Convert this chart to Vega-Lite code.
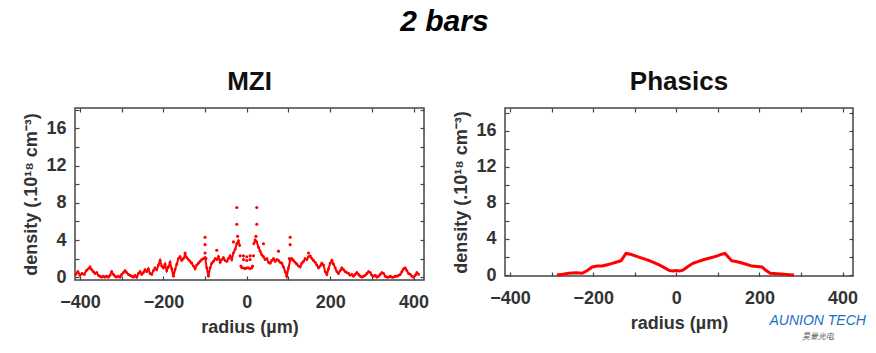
{
  "$schema": "https://vega.github.io/schema/vega-lite/v6.json",
  "background": "white",
  "padding": {"left": 22, "top": 6, "right": 10, "bottom": 5},
  "title": {"text": "2 bars", "fontSize": 30, "fontStyle": "italic", "fontWeight": "bold", "color": "#000", "font": "Liberation Sans", "anchor": "middle", "offset": 32},
  "config": {
    "font": "Liberation Sans",
    "view": {"stroke": "#444", "strokeWidth": 1.5},
    "axis": {"labelFont": "Liberation Sans", "labelFontSize": 18, "labelFontWeight": "bold", "labelColor": "#333", "titleFont": "Liberation Sans", "titleFontSize": 18, "titleFontWeight": "bold", "titleColor": "#333", "grid": false, "domain": false, "tickColor": "#444", "tickSize": -4, "tickWidth": 1.2},
    "title": {"font": "Liberation Sans"}
  },
  "datasets": {
    "mzi": [
      {"x": -410, "y": 0.3, "s": "L"}, {"x": -405, "y": 0.6, "s": "L"}, {"x": -400, "y": 0.2, "s": "L"}, {"x": -395, "y": 0.4, "s": "L"}, {"x": -390, "y": 0.3, "s": "L"}, {"x": -385, "y": 0.7, "s": "L"}, {"x": -380, "y": 0.9, "s": "L"}, {"x": -376, "y": 1.1, "s": "L"}, {"x": -372, "y": 0.8, "s": "L"}, {"x": -368, "y": 0.6, "s": "L"}, {"x": -364, "y": 0.4, "s": "L"}, {"x": -360, "y": 0.5, "s": "L"}, {"x": -356, "y": 0.2, "s": "L"}, {"x": -352, "y": 0.1, "s": "L"}, {"x": -348, "y": 0.0, "s": "L"}, {"x": -344, "y": 0.1, "s": "L"}, {"x": -340, "y": 0.0, "s": "L"}, {"x": -336, "y": 0.1, "s": "L"}, {"x": -332, "y": 0.0, "s": "L"}, {"x": -328, "y": 0.2, "s": "L"}, {"x": -324, "y": 0.6, "s": "L"}, {"x": -320, "y": 0.3, "s": "L"}, {"x": -316, "y": 0.1, "s": "L"}, {"x": -312, "y": 0.0, "s": "L"}, {"x": -308, "y": 0.1, "s": "L"}, {"x": -304, "y": 0.0, "s": "L"}, {"x": -300, "y": 0.3, "s": "L"}, {"x": -296, "y": 0.5, "s": "L"}, {"x": -292, "y": 0.7, "s": "L"}, {"x": -288, "y": 0.5, "s": "L"}, {"x": -284, "y": 0.3, "s": "L"}, {"x": -280, "y": 0.2, "s": "L"}, {"x": -276, "y": 0.1, "s": "L"}, {"x": -272, "y": 0.0, "s": "L"}, {"x": -268, "y": 0.2, "s": "L"}, {"x": -264, "y": 0.0, "s": "L"}, {"x": -260, "y": 0.4, "s": "L"}, {"x": -256, "y": 0.6, "s": "L"}, {"x": -252, "y": 0.3, "s": "L"}, {"x": -248, "y": 0.5, "s": "L"}, {"x": -244, "y": 0.8, "s": "L"}, {"x": -240, "y": 0.6, "s": "L"}, {"x": -236, "y": 0.9, "s": "L"}, {"x": -232, "y": 0.4, "s": "L"}, {"x": -228, "y": 0.3, "s": "L"}, {"x": -224, "y": 0.7, "s": "L"}, {"x": -220, "y": 1.0, "s": "L"}, {"x": -216, "y": 0.8, "s": "L"}, {"x": -212, "y": 1.3, "s": "L"}, {"x": -208, "y": 1.8, "s": "L"}, {"x": -204, "y": 1.2, "s": "L"}, {"x": -200, "y": 1.0, "s": "L"}, {"x": -196, "y": 1.4, "s": "L"}, {"x": -192, "y": 0.7, "s": "L"}, {"x": -188, "y": 1.1, "s": "L"}, {"x": -184, "y": 1.6, "s": "L"}, {"x": -180, "y": 0.9, "s": "L"}, {"x": -176, "y": 0.1, "s": "L"}, {"x": -172, "y": 0.8, "s": "L"}, {"x": -168, "y": 1.4, "s": "L"}, {"x": -164, "y": 2.0, "s": "L"}, {"x": -160, "y": 2.2, "s": "L"}, {"x": -156, "y": 1.8, "s": "L"}, {"x": -152, "y": 2.0, "s": "L"}, {"x": -148, "y": 2.4, "s": "L"}, {"x": -144, "y": 2.1, "s": "L"}, {"x": -140, "y": 1.9, "s": "L"}, {"x": -136, "y": 1.7, "s": "L"}, {"x": -132, "y": 1.5, "s": "L"}, {"x": -128, "y": 1.2, "s": "L"}, {"x": -124, "y": 0.9, "s": "L"}, {"x": -120, "y": 1.3, "s": "L"}, {"x": -116, "y": 1.5, "s": "L"}, {"x": -112, "y": 1.7, "s": "L"}, {"x": -108, "y": 1.9, "s": "L"}, {"x": -104, "y": 2.0, "s": "L"}, {"x": -100, "y": 2.1, "s": "L"}, {"x": -96, "y": 1.0, "s": "L"}, {"x": -92, "y": 0.1, "s": "L"}, {"x": -88, "y": 1.0, "s": "L"}, {"x": -84, "y": 1.5, "s": "L"}, {"x": -80, "y": 1.7, "s": "L"}, {"x": -76, "y": 2.0, "s": "L"}, {"x": -72, "y": 1.9, "s": "L"}, {"x": -68, "y": 2.2, "s": "L"}, {"x": -64, "y": 1.6, "s": "L"}, {"x": -60, "y": 1.9, "s": "L"}, {"x": -56, "y": 2.1, "s": "L"}, {"x": -52, "y": 1.8, "s": "L"}, {"x": -48, "y": 1.7, "s": "L"}, {"x": -44, "y": 2.0, "s": "L"}, {"x": -40, "y": 2.3, "s": "L"}, {"x": -36, "y": 1.9, "s": "L"}, {"x": -32, "y": 2.6, "s": "L"}, {"x": -28, "y": 3.0, "s": "L"}, {"x": -24, "y": 3.6, "s": "L"}, {"x": -20, "y": 3.9, "s": "L"}, {"x": -17, "y": 3.4, "s": "L"},
      {"x": -12, "y": 1.0, "s": "C"}, {"x": -8, "y": 1.0, "s": "C"}, {"x": -4, "y": 0.9, "s": "C"}, {"x": 0, "y": 1.0, "s": "C"}, {"x": 4, "y": 1.0, "s": "C"}, {"x": 8, "y": 0.9, "s": "C"}, {"x": 12, "y": 1.0, "s": "C"},
      {"x": 17, "y": 3.6, "s": "R"}, {"x": 20, "y": 4.0, "s": "R"}, {"x": 24, "y": 3.8, "s": "R"}, {"x": 28, "y": 3.2, "s": "R"}, {"x": 32, "y": 2.8, "s": "R"}, {"x": 36, "y": 2.4, "s": "R"}, {"x": 40, "y": 2.2, "s": "R"}, {"x": 44, "y": 1.9, "s": "R"}, {"x": 48, "y": 2.0, "s": "R"}, {"x": 52, "y": 1.6, "s": "R"}, {"x": 56, "y": 1.5, "s": "R"}, {"x": 60, "y": 1.8, "s": "R"}, {"x": 64, "y": 2.0, "s": "R"}, {"x": 68, "y": 1.7, "s": "R"}, {"x": 72, "y": 1.9, "s": "R"}, {"x": 76, "y": 1.8, "s": "R"}, {"x": 80, "y": 1.6, "s": "R"}, {"x": 84, "y": 1.5, "s": "R"}, {"x": 88, "y": 1.1, "s": "R"}, {"x": 92, "y": 0.6, "s": "R"}, {"x": 96, "y": 0.1, "s": "R"}, {"x": 100, "y": 1.0, "s": "R"}, {"x": 104, "y": 1.8, "s": "R"}, {"x": 108, "y": 2.0, "s": "R"}, {"x": 112, "y": 1.8, "s": "R"}, {"x": 116, "y": 1.6, "s": "R"}, {"x": 120, "y": 1.4, "s": "R"}, {"x": 124, "y": 1.2, "s": "R"}, {"x": 128, "y": 1.1, "s": "R"}, {"x": 132, "y": 1.5, "s": "R"}, {"x": 136, "y": 1.7, "s": "R"}, {"x": 140, "y": 2.0, "s": "R"}, {"x": 144, "y": 1.9, "s": "R"}, {"x": 148, "y": 2.2, "s": "R"}, {"x": 152, "y": 2.3, "s": "R"}, {"x": 156, "y": 2.0, "s": "R"}, {"x": 160, "y": 1.8, "s": "R"}, {"x": 164, "y": 1.6, "s": "R"}, {"x": 168, "y": 1.3, "s": "R"}, {"x": 172, "y": 1.0, "s": "R"}, {"x": 176, "y": 1.2, "s": "R"}, {"x": 180, "y": 1.5, "s": "R"}, {"x": 184, "y": 1.3, "s": "R"}, {"x": 188, "y": 0.6, "s": "R"}, {"x": 192, "y": 0.3, "s": "R"}, {"x": 196, "y": 0.9, "s": "R"}, {"x": 200, "y": 1.5, "s": "R"}, {"x": 204, "y": 1.8, "s": "R"}, {"x": 208, "y": 1.4, "s": "R"}, {"x": 212, "y": 1.0, "s": "R"}, {"x": 216, "y": 0.6, "s": "R"}, {"x": 220, "y": 0.4, "s": "R"}, {"x": 224, "y": 0.7, "s": "R"}, {"x": 228, "y": 1.0, "s": "R"}, {"x": 232, "y": 0.8, "s": "R"}, {"x": 236, "y": 0.6, "s": "R"}, {"x": 240, "y": 0.5, "s": "R"}, {"x": 244, "y": 0.4, "s": "R"}, {"x": 248, "y": 0.2, "s": "R"}, {"x": 252, "y": 0.3, "s": "R"}, {"x": 256, "y": 0.1, "s": "R"}, {"x": 260, "y": 0.3, "s": "R"}, {"x": 264, "y": 0.5, "s": "R"}, {"x": 268, "y": 0.3, "s": "R"}, {"x": 272, "y": 0.1, "s": "R"}, {"x": 276, "y": 0.0, "s": "R"}, {"x": 280, "y": 0.1, "s": "R"}, {"x": 284, "y": 0.2, "s": "R"}, {"x": 288, "y": 0.4, "s": "R"}, {"x": 292, "y": 0.6, "s": "R"}, {"x": 296, "y": 0.5, "s": "R"}, {"x": 300, "y": 0.2, "s": "R"}, {"x": 304, "y": 0.1, "s": "R"}, {"x": 308, "y": 0.2, "s": "R"}, {"x": 312, "y": 0.0, "s": "R"}, {"x": 316, "y": 0.1, "s": "R"}, {"x": 320, "y": 0.3, "s": "R"}, {"x": 324, "y": 0.5, "s": "R"}, {"x": 328, "y": 0.4, "s": "R"}, {"x": 332, "y": 0.1, "s": "R"}, {"x": 336, "y": 0.0, "s": "R"}, {"x": 340, "y": 0.0, "s": "R"}, {"x": 344, "y": 0.1, "s": "R"}, {"x": 348, "y": 0.0, "s": "R"}, {"x": 352, "y": 0.0, "s": "R"}, {"x": 356, "y": 0.1, "s": "R"}, {"x": 360, "y": 0.1, "s": "R"}, {"x": 364, "y": 0.2, "s": "R"}, {"x": 368, "y": 0.3, "s": "R"}, {"x": 372, "y": 0.6, "s": "R"}, {"x": 376, "y": 0.9, "s": "R"}, {"x": 380, "y": 1.0, "s": "R"}, {"x": 384, "y": 0.7, "s": "R"}, {"x": 388, "y": 0.4, "s": "R"}, {"x": 392, "y": 0.3, "s": "R"}, {"x": 396, "y": 0.1, "s": "R"}, {"x": 400, "y": 0.0, "s": "R"}, {"x": 404, "y": 0.2, "s": "R"}, {"x": 408, "y": 0.5, "s": "R"}, {"x": 412, "y": 0.3, "s": "R"}
    ],
    "spikes": [
      {"x": -100, "y": 4.3}, {"x": -100, "y": 3.5}, {"x": -100, "y": 2.6}, {"x": -98, "y": 2.0},
      {"x": -148, "y": 2.6}, {"x": -72, "y": 2.9}, {"x": -32, "y": 3.8},
      {"x": -24, "y": 7.5}, {"x": -24, "y": 5.7}, {"x": -22, "y": 4.4},
      {"x": -16, "y": 2.3}, {"x": -14, "y": 1.2},
      {"x": -8, "y": 2.3}, {"x": -8, "y": 1.9}, {"x": 0, "y": 2.2}, {"x": 0, "y": 1.8}, {"x": 8, "y": 2.3}, {"x": 8, "y": 1.9},
      {"x": 14, "y": 1.2}, {"x": 16, "y": 2.3},
      {"x": 24, "y": 7.5}, {"x": 24, "y": 5.7}, {"x": 22, "y": 4.4},
      {"x": 40, "y": 3.6}, {"x": 76, "y": 2.8}, {"x": 148, "y": 2.6},
      {"x": 104, "y": 4.3}, {"x": 104, "y": 3.5}, {"x": 102, "y": 2.0}
    ],
    "phasics": [
      {"x": -287, "y": 0.0}, {"x": -272, "y": 0.1}, {"x": -259, "y": 0.2}, {"x": -240, "y": 0.25}, {"x": -226, "y": 0.2}, {"x": -214, "y": 0.5}, {"x": -202, "y": 0.9}, {"x": -190, "y": 1.0}, {"x": -178, "y": 1.0}, {"x": -166, "y": 1.15}, {"x": -154, "y": 1.3}, {"x": -143, "y": 1.45}, {"x": -133, "y": 1.6}, {"x": -127, "y": 2.0}, {"x": -121, "y": 2.4}, {"x": -110, "y": 2.3}, {"x": -97, "y": 2.1}, {"x": -81, "y": 1.85}, {"x": -65, "y": 1.6}, {"x": -52, "y": 1.35}, {"x": -40, "y": 1.1}, {"x": -28, "y": 0.8}, {"x": -16, "y": 0.5}, {"x": -8, "y": 0.45}, {"x": 0, "y": 0.5}, {"x": 8, "y": 0.45}, {"x": 16, "y": 0.55}, {"x": 28, "y": 0.95}, {"x": 40, "y": 1.3}, {"x": 52, "y": 1.5}, {"x": 65, "y": 1.7}, {"x": 81, "y": 1.9}, {"x": 97, "y": 2.1}, {"x": 108, "y": 2.3}, {"x": 117, "y": 2.4}, {"x": 125, "y": 2.0}, {"x": 133, "y": 1.6}, {"x": 143, "y": 1.5}, {"x": 154, "y": 1.4}, {"x": 168, "y": 1.2}, {"x": 182, "y": 1.0}, {"x": 194, "y": 0.95}, {"x": 206, "y": 0.9}, {"x": 216, "y": 0.5}, {"x": 226, "y": 0.2}, {"x": 242, "y": 0.15}, {"x": 259, "y": 0.1}, {"x": 272, "y": 0.05}, {"x": 283, "y": 0.0}
    ],
    "logo": [
      {"x": 340, "y": -5.1, "t": "AUNION TECH", "k": "en"},
      {"x": 340, "y": -6.9, "t": "昊量光电", "k": "cn"}
    ]
  },
  "hconcat": [
    {
      "width": 349, "height": 172,
      "title": {"text": "MZI", "fontSize": 26, "fontWeight": "bold", "color": "#111", "offset": 12},
      "layer": [
        {
          "data": {"name": "mzi"},
          "mark": {"type": "line", "color": "#ff0000", "strokeWidth": 2, "point": {"filled": true, "size": 8, "color": "#ff0000"}},
          "encoding": {
            "x": {"field": "x", "type": "quantitative", "scale": {"domain": [-412, 425], "nice": false, "zero": false},
                  "axis": {"title": "radius (µm)", "values": [-400, -300, -200, -100, 0, 100, 200, 300, 400], "labelExpr": "datum.value % 200 == 0 ? datum.label : ''", "labelPadding": 17, "titlePadding": 7}},
            "y": {"field": "y", "type": "quantitative", "scale": {"domain": [-0.3, 18.2], "nice": false, "zero": false},
                  "axis": {"title": "density (.10¹⁸ cm⁻³)", "values": [0, 2, 4, 6, 8, 10, 12, 14, 16, 18], "labelExpr": "datum.value % 4 == 0 && datum.value < 18 ? datum.label : ''", "labelPadding": 13, "titlePadding": 5}},
            "detail": {"field": "s"}
          }
        },
        {
          "data": {"name": "spikes"},
          "mark": {"type": "point", "filled": true, "size": 10, "color": "#ff0000", "opacity": 1},
          "encoding": {
            "x": {"field": "x", "type": "quantitative", "axis": null},
            "y": {"field": "y", "type": "quantitative", "axis": null}
          }
        },
        {
          "data": {"name": "spikes"},
          "mark": {"type": "point", "opacity": 0},
          "encoding": {
            "x": {"field": "x", "type": "quantitative", "axis": {"orient": "top", "labels": false, "title": null, "values": [-400, -300, -200, -100, 0, 100, 200, 300, 400]}},
            "y": {"field": "y", "type": "quantitative", "axis": {"orient": "right", "labels": false, "title": null, "values": [0, 2, 4, 6, 8, 10, 12, 14, 16, 18]}}
          }
        }
      ],
      "resolve": {"axis": {"x": "independent", "y": "independent"}}
    },
    {
      "width": 348, "height": 168,
      "title": {"text": "Phasics", "fontSize": 26, "fontWeight": "bold", "color": "#111", "offset": 12},
      "layer": [
        {
          "data": {"name": "phasics"},
          "mark": {"type": "line", "color": "#ff0000", "strokeWidth": 3},
          "encoding": {
            "x": {"field": "x", "type": "quantitative", "scale": {"domain": [-412, 425], "nice": false, "zero": false},
                  "axis": {"title": "radius (µm)", "values": [-400, -300, -200, -100, 0, 100, 200, 300, 400], "labelExpr": "datum.value % 200 == 0 ? datum.label : ''", "labelPadding": 17, "titlePadding": 7}},
            "y": {"field": "y", "type": "quantitative", "scale": {"domain": [-0.1, 18.5], "nice": false, "zero": false},
                  "axis": {"title": "density (.10¹⁸ cm⁻³)", "values": [0, 2, 4, 6, 8, 10, 12, 14, 16, 18], "labelExpr": "datum.value % 4 == 0 && datum.value < 18 ? datum.label : ''", "labelPadding": 13, "titlePadding": 5}}
          }
        },
        {
          "data": {"name": "phasics"},
          "mark": {"type": "point", "opacity": 0},
          "encoding": {
            "x": {"field": "x", "type": "quantitative", "axis": {"orient": "top", "labels": false, "title": null, "values": [-400, -300, -200, -100, 0, 100, 200, 300, 400]}},
            "y": {"field": "y", "type": "quantitative", "axis": {"orient": "right", "labels": false, "title": null, "values": [0, 2, 4, 6, 8, 10, 12, 14, 16, 18]}}
          }
        },
        {
          "data": {"name": "logo"},
          "mark": {"type": "text", "fontStyle": "italic", "clip": false},
          "encoding": {
            "x": {"field": "x", "type": "quantitative", "axis": null},
            "y": {"field": "y", "type": "quantitative", "axis": null},
            "text": {"field": "t"},
            "size": {"field": "k", "type": "nominal", "scale": {"domain": ["en", "cn"], "range": [14, 8]}, "legend": null},
            "color": {"field": "k", "type": "nominal", "scale": {"domain": ["en", "cn"], "range": ["#1a6fc4", "#555555"]}, "legend": null}
          }
        }
      ],
      "resolve": {"axis": {"x": "independent", "y": "independent"}}
    }
  ],
  "spacing": 22
}
